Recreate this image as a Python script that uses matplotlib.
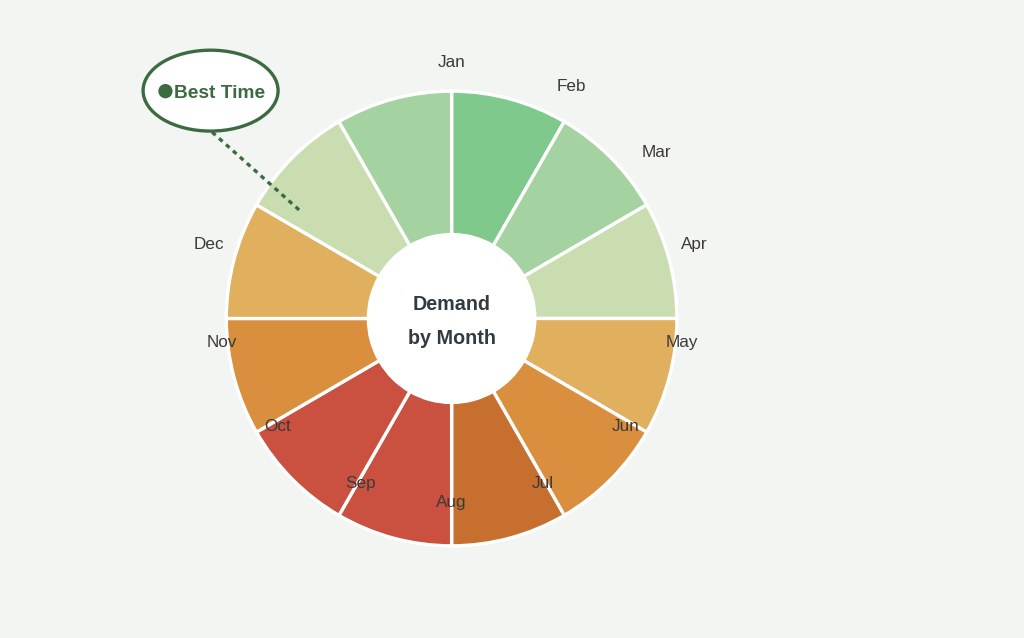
import numpy as np
import matplotlib.pyplot as plt
from matplotlib.patches import Ellipse, Circle

months = ['Jan', 'Feb', 'Mar', 'Apr', 'May', 'Jun', 'Jul', 'Aug', 'Sep', 'Oct', 'Nov', 'Dec']
# demand level per month, 1 = quiet ... 7 = peak
demand = [1, 2, 3, 4, 5, 6, 7, 7, 5, 4, 3, 2]
level_colors = {1: '#7ec98b', 2: '#a4d2a0', 3: '#c9ddb0', 4: '#e0b05e',
                5: '#d98f3e', 6: '#c76f2e', 7: '#ca513f'}
share = [1] * len(months)
center_title = 'Demand\nby Month'
callout = 'Best Time'

plt.rcParams['font.family'] = ['Liberation Sans', 'DejaVu Sans']

W, H = 1009, 623          # work in reference pixels, y measured from top
def py(y):
    return H - y

cx, cy = 445, 311
r_out, r_in = 222, 82
green = '#3b6b40'
txt = '#3a3a3a'

fig = plt.figure(figsize=(10.24, 6.38), dpi=100)
fig.patch.set_facecolor('#f3f5f2')
ax = fig.add_axes([0, 0, 1, 1])
ax.set_facecolor('#f3f5f2')

cols = [level_colors[d] for d in demand]
ax.pie(share, colors=cols, radius=r_out, center=(cx, py(cy)), startangle=90,
       counterclock=False,
       wedgeprops=dict(width=r_out - r_in, edgecolor='white', linewidth=2.4))
ax.add_patch(Circle((cx, py(cy)), r_in + 1, facecolor='white', edgecolor='none', zorder=3))

# month labels sit on a lopsided ring around the donut
n_slots = 14
for i, m in enumerate(months):
    tdeg = i * 360 / n_slots
    t = np.deg2rad(tdeg)
    d = min(tdeg, 360 - tdeg)
    a = 284 - 0.5 * d
    lx = cx + a * np.sin(t)
    ly = 276 - 215 * np.cos(t) + 11 * np.sin(t) ** 2
    ax.text(lx, py(ly), m, ha='center', va='center', fontsize=12.3, color=txt, zorder=5)

ax.text(cx, py(314), center_title, ha='center', va='center', fontsize=14.2,
        fontweight='bold', color='#333a40', linespacing=1.95, zorder=5)

# callout bubble
ax.plot([209, 297], [py(129), py(207)], color=green, lw=2.4,
        linestyle=(0, (1.4, 1.4)), zorder=4)
ax.add_patch(Ellipse((207.5, py(88.5)), 133, 79, facecolor='white', edgecolor=green,
                     lw=2.4, zorder=6))
ax.add_patch(Circle((163, py(89)), 7, facecolor=green, edgecolor='none', zorder=7))
ax.text(171, py(91), callout, ha='left', va='center', fontsize=13.8,
        fontweight='bold', color=green, zorder=7)

ax.set_xlim(0, W)
ax.set_ylim(0, H)
ax.set_aspect('auto')
ax.axis('off')

fig.savefig('out.png', dpi=100, facecolor=fig.get_facecolor())
